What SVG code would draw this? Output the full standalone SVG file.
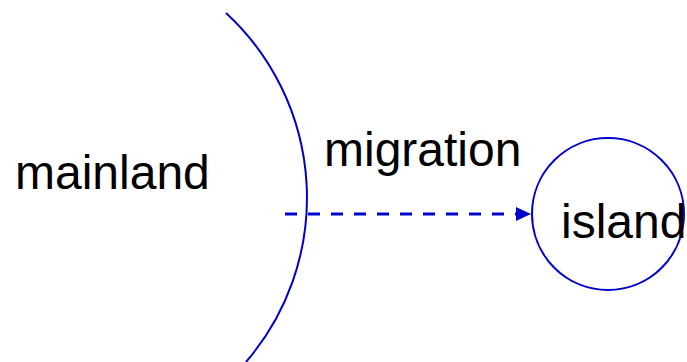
<svg xmlns="http://www.w3.org/2000/svg" width="687" height="362" viewBox="0 0 687 362">
<style>
.line{fill:none;stroke:#0000cc;stroke-width:2}
.lbl{font-family:"Liberation Sans",Arial,sans-serif;font-size:48px;fill:#000}
</style>
<defs>
<marker id="ah" markerWidth="16" markerHeight="16" refX="15" refY="8" orient="auto" markerUnits="userSpaceOnUse">
<path d="M0,1 L15,8 L0,15 Z" fill="#0000cc"/>
</marker>
</defs>
<rect width="687" height="362" fill="#fff"/>
<g id="mainland">
<path class="line" d="M226,13 A251.5,251.5 0 0 1 246,362"/>
<text class="lbl" x="15" y="189">mainland</text>
</g>
<g id="island">
<circle class="line" cx="608" cy="214" r="76" stroke-width="1.5"/>
<text class="lbl" x="561" y="238">island</text>
</g>
<g id="connectors">
<line x1="285" y1="214" x2="531" y2="214" stroke="#0000cc" stroke-width="3" stroke-dasharray="12,11" marker-end="url(#ah)"/>
<text class="lbl" x="324" y="166">migration</text>
</g>
</svg>
